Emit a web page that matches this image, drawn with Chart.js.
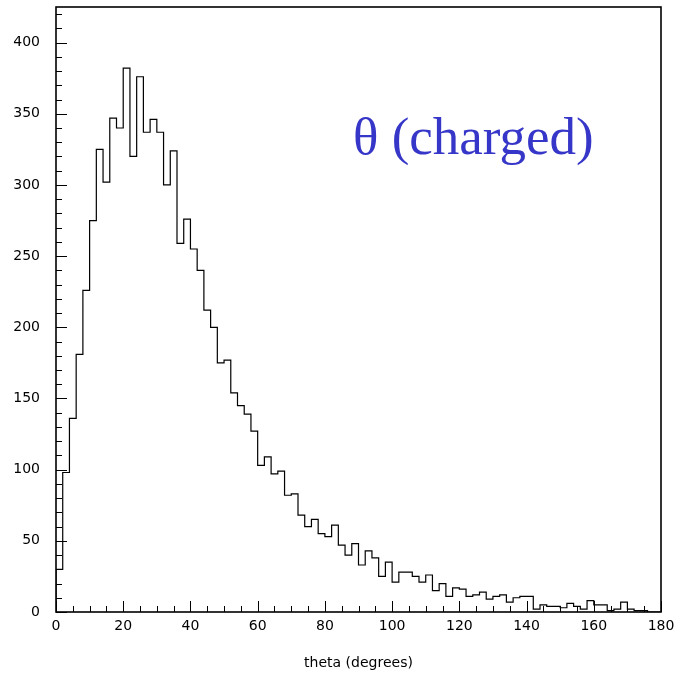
<!DOCTYPE html>
<html>
<head>
<meta charset="utf-8">
<script src="https://cdn.jsdelivr.net/npm/chart.js"></script>
<style>
  body { margin: 0; background: #fff; }
  #wrap { width: 680px; height: 677px; }
</style>
</head>
<body>
<div id="wrap"><canvas id="histo" width="680" height="677"></canvas></div>
<script>
// theta of charged tracks, 2 degree bins from 0 to 180
const binWidth = 2;
const counts = [
  30, 98, 136, 181, 226, 275, 325, 302, 347, 340,
  382, 320, 376, 337, 346, 337, 300, 324, 259, 276,
  255, 240, 212, 200, 175, 177, 154, 145, 139, 127,
  103, 109, 97, 99, 82, 83, 68, 60, 65, 55,
  53, 61, 47, 40, 48, 33, 43, 38, 25, 35,
  21, 28, 28, 25, 21, 26, 15, 20, 11, 17,
  16, 11, 12, 14, 9, 11, 12, 7, 10, 11,
  11, 2, 5, 4, 4, 3, 6, 4, 2, 8,
  5, 5, 1, 2, 7, 2, 1, 1, 0, 0
];
const xTicks = [0, 20, 40, 60, 80, 100, 120, 140, 160, 180];
const yTicks = [0, 50, 100, 150, 200, 250, 300, 350, 400];
const xTitle = "theta (degrees)";
const plotTitle = "\u03b8 (charged)";

// outline of the histogram: left and right edge of every bin
let outline = [{ x: 0, y: 0 }];
counts.forEach(function (c, i) {
    outline.push({ x: i * binWidth, y: c });
    outline.push({ x: (i + 1) * binWidth, y: c });
});
outline.push({ x: counts.length * binWidth, y: 0 });

// PAW style: ticks inside the frame, box round the plot, blue title
const pawFrame = {
    id: "pawFrame",
    afterDraw(chart) {
        const ctx = chart.ctx;
        const a = chart.chartArea;
        const x = chart.scales.x, y = chart.scales.y;
        ctx.save();
        ctx.strokeStyle = "#000";
        ctx.lineWidth = 1;
        ctx.beginPath();
        for (let v = 0; v <= 420; v += 10) {
            const py = Math.round(y.getPixelForValue(v)) + 0.5;
            const len = v % 50 === 0 ? 11 : 6;
            ctx.moveTo(a.left, py);
            ctx.lineTo(a.left + len, py);
        }
        for (let v = 0; v <= 180; v += 5) {
            const px = Math.round(x.getPixelForValue(v)) + 0.5;
            const len = v % 20 === 0 ? 11 : 6;
            ctx.moveTo(px, a.bottom);
            ctx.lineTo(px, a.bottom - len);
        }
        ctx.stroke();
        ctx.lineWidth = 1.6;
        ctx.strokeRect(a.left, a.top, a.right - a.left, a.bottom - a.top);

        ctx.fillStyle = "#3636c8";
        ctx.font = "53px 'Liberation Serif', 'DejaVu Serif', serif";
        ctx.textAlign = "left";
        ctx.textBaseline = "alphabetic";
        ctx.fillText(plotTitle, 353, 154);
        ctx.restore();
    }
};

document.addEventListener("DOMContentLoaded", function () {
    const ctx = document.getElementById("histo").getContext("2d");
    new Chart(ctx, {
        type: "line",
        data: {
            datasets: [{
                data: outline,
                borderColor: "#000",
                borderWidth: 1.2,
                pointRadius: 0,
                fill: false,
                tension: 0
            }]
        },
        options: {
            responsive: false,
            animation: false,
            layout: { padding: { left: 0, top: 7, right: 19, bottom: 0 } },
            plugins: { legend: { display: false }, tooltip: { enabled: false } },
            scales: {
                x: {
                    type: "linear",
                    min: 0,
                    max: 180,
                    grid: { display: false, drawTicks: false },
                    border: { display: false },
                    afterBuildTicks: function (s) { s.ticks = xTicks.map(v => ({ value: v })); },
                    afterFit: function (s) {
                        s.height = 65;
                        s.paddingLeft = 0;
                        s.paddingRight = 0;
                    },
                    ticks: {
                        color: "#000",
                        padding: 6,
                        maxRotation: 0,
                        autoSkip: false,
                        font: { family: "'DejaVu Sans', sans-serif", size: 14 }
                    },
                    title: {
                        display: true,
                        text: xTitle,
                        color: "#000",
                        padding: { top: 0, bottom: 5 },
                        font: { family: "'DejaVu Sans', sans-serif", size: 14 }
                    }
                },
                y: {
                    type: "linear",
                    min: 0,
                    max: 425,
                    grid: { display: false, drawTicks: false },
                    border: { display: false },
                    afterBuildTicks: function (s) { s.ticks = yTicks.map(v => ({ value: v })); },
                    afterFit: function (s) {
                        s.width = 56;
                        s.paddingTop = 0;
                        s.paddingBottom = 0;
                    },
                    ticks: {
                        color: "#000",
                        padding: 16,
                        autoSkip: false,
                        font: { family: "'DejaVu Sans', sans-serif", size: 14 }
                    }
                }
            }
        },
        plugins: [pawFrame]
    });
});
</script>
</body>
</html>
